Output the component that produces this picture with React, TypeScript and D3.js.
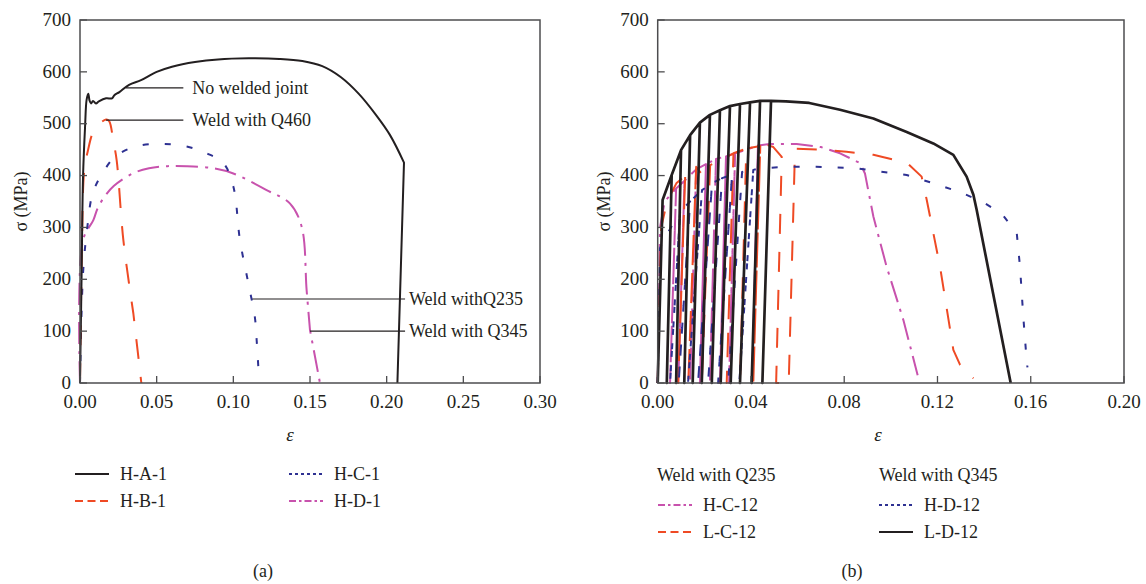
import React from 'react';
import * as d3 from 'd3';

type Pt = number[];

// ---------- Panel (a) data : strain, stress (MPa) ----------
const xTicksA = [0, 0.05, 0.1, 0.15, 0.2, 0.25, 0.3];
const xTicksB = [0, 0.04, 0.08, 0.12, 0.16, 0.2];
const yTicks = [0, 100, 200, 300, 400, 500, 600, 700];

const HA1: Pt[] = [
  [0, 0], [0.001, 200], [0.002, 400], [0.0033, 494], [0.0043, 546], [0.0054, 558],
  [0.0062, 545], [0.0072, 539], [0.0085, 544], [0.0104, 539], [0.0123, 543], [0.017, 549],
  [0.0209, 549], [0.0224, 555], [0.0257, 561], [0.032, 575], [0.0398, 584], [0.05, 600],
  [0.06, 610], [0.075, 619], [0.09, 624], [0.11, 626], [0.13, 625], [0.145, 621],
  [0.158, 611], [0.17, 590], [0.182, 557], [0.193, 517], [0.2022, 478], [0.2113, 425], [0.207, 0],
];
const HB1: Pt[] = [
  [0, 0], [0.0012, 250], [0.0028, 411], [0.005, 446], [0.0093, 488], [0.017, 508],
  [0.019, 505], [0.0217, 467], [0.0239, 430], [0.0283, 275], [0.0348, 134], [0.0400, 0],
];
const HC1: Pt[] = [
  [0, 0], [0.002, 212], [0.0048, 301], [0.0083, 366], [0.0148, 405], [0.0235, 438],
  [0.0376, 457], [0.0543, 461], [0.0696, 456], [0.0826, 443], [0.0935, 424], [0.1, 379],
  [0.1043, 276], [0.1098, 192], [0.114, 128], [0.1152, 83], [0.1163, 31], [0.117, 28],
];
const HD1: Pt[] = [
  [0, 0], [0.002, 276], [0.0087, 314], [0.0115, 337], [0.0159, 359], [0.022, 380],
  [0.0343, 404], [0.045, 414], [0.0565, 418], [0.0696, 418], [0.087, 414], [0.1, 404],
  [0.1217, 372], [0.137, 346], [0.1446, 301], [0.1478, 179], [0.15, 102], [0.1565, 0],
];

// ---------- Panel (b) data : envelope points; a third value = strain where unloading reaches zero stress ----------
const HC12: Pt[] = [
  [0, 0], [0.001, 300], [0.003, 350], [0.0079, 375, 0.0053], [0.0115, 390, 0.0088],
  [0.0165, 412, 0.0139], [0.0207, 422, 0.0181], [0.025, 432, 0.0224], [0.0293, 437, 0.0267],
  [0.0332, 443, 0.0306], [0.0375, 449], [0.043, 458, 0.0405], [0.048, 461], [0.0596, 461],
  [0.07, 455], [0.0782, 443], [0.0868, 424], [0.0889, 404], [0.0925, 321], [0.0982, 224],
  [0.1054, 121], [0.1115, 15],
];
const LC12: Pt[] = [
  [0, 0], [0.0015, 300], [0.004, 350], [0.008, 385], [0.0118, 400, 0.0088], [0.0165, 417, 0.0131],
  [0.0196, 398], [0.0225, 420, 0.0189], [0.0296, 436], [0.0325, 443, 0.0296], [0.038, 452, 0.0353],
  [0.044, 457, 0.041], [0.047, 459], [0.0496, 455], [0.0532, 436], [0.0508, 0], [0.0562, 0],
  [0.0589, 452], [0.07, 450], [0.081, 446], [0.0925, 440], [0.1018, 430], [0.1075, 422],
  [0.1132, 398], [0.1154, 353], [0.1211, 224], [0.1268, 64], [0.1297, 35], [0.1354, 9],
];
const HD12: Pt[] = [
  [0, 0], [0.001, 260], [0.0031, 280], [0.0096, 330, 0.0053], [0.0139, 350, 0.009],
  [0.019, 372, 0.013], [0.0233, 385, 0.0173], [0.0276, 395, 0.0216], [0.0319, 402, 0.0259],
  [0.0362, 407, 0.0302], [0.041, 411, 0.035], [0.0439, 414], [0.0553, 417], [0.068, 417],
  [0.0854, 414], [0.0968, 407], [0.1068, 401], [0.1197, 383], [0.1297, 368], [0.139, 350],
  [0.1475, 327], [0.154, 289], [0.1554, 224], [0.1568, 128], [0.1583, 41], [0.1586, 30],
];
const LD12: Pt[] = [
  [0, 0], [0.0021, 353], [0.006, 401, 0.0039], [0.01, 449, 0.0079], [0.0139, 478, 0.0114],
  [0.0181, 502, 0.015], [0.0224, 517, 0.0189], [0.0267, 526, 0.0232], [0.031, 534, 0.027],
  [0.0353, 538, 0.0313], [0.0396, 541, 0.0353], [0.0439, 544, 0.0403], [0.0486, 544, 0.0449],
  [0.055, 543], [0.065, 540], [0.0782, 527], [0.0925, 510], [0.1068, 484], [0.1182, 462],
  [0.1268, 440], [0.1325, 398], [0.1354, 363], [0.1368, 334], [0.1514, 0],
];

// annotations of panel (a): [anchor strain, stress, line-end strain, text]
const annA: [number, number, number, string][] = [
  [0.030, 569, 0.0674, 'No welded joint'],
  [0.017, 507, 0.0674, 'Weld with Q460'],
  [0.1124, 162, 0.212, 'Weld withQ235'],
  [0.150, 100, 0.212, 'Weld with Q345'],
];

const BLACK = '#231f20';
const RED = '#ef4a24';
const BLUE = '#2e3192';
const MAGENTA = '#c852ad';
const FONT = '"Liberation Serif", "Times New Roman", serif';

const STYLE: Record<string, { color: string; dash?: string; legendDash?: string }> = {
  solid: { color: BLACK },
  dashed: { color: RED, dash: '20,18', legendDash: '8,4.5' },
  dotted: { color: BLUE, dash: '6,16', legendDash: '3,3' },
  dashdot: { color: MAGENTA, dash: '22,7,3,7', legendDash: '7,3,2.5,3' },
};

function expand(pts: Pt[]): [number, number][] {
  const out: [number, number][] = [];
  pts.forEach((p) => {
    out.push([p[0], p[1]]);
    if (p.length > 2) {
      out.push([p[2], 0]);
      out.push([p[0], p[1]]);
    }
  });
  return out;
}

interface Box { left: number; right: number; top: number; bottom: number; }

function Panel({ box, xMax, xTicks, series, ylabelX, tickFmt, smooth }: {
  box: Box; xMax: number; xTicks: number[];
  series: { data: Pt[]; style: string; width?: number }[];
  ylabelX: number; tickFmt: (v: number) => string; smooth: boolean;
}) {
  const x = d3.scaleLinear().domain([0, xMax]).range([box.left, box.right]);
  const y = d3.scaleLinear().domain([0, 700]).range([box.bottom, box.top]);
  const linear = d3.line<[number, number]>().x((d) => x(d[0])).y((d) => y(d[1]));
  const curved = d3.line<[number, number]>().x((d) => x(d[0])).y((d) => y(d[1]))
    .curve(d3.curveCatmullRom.alpha(0.5));
  const pathOf = (data: Pt[]) => {
    const pts = expand(data);
    if (!smooth) return linear(pts) || '';
    // smooth body, straight final (fracture) segment
    const body = curved(pts.slice(0, pts.length - 1)) || '';
    const last = pts[pts.length - 1];
    return `${body}L${x(last[0])},${y(last[1])}`;
  };
  const cy = (box.top + box.bottom) / 2;
  return (
    <g>
      {series.map((s, i) => {
        const st = STYLE[s.style];
        return (
          <path key={i} d={pathOf(s.data)} fill="none" stroke={st.color}
            strokeWidth={s.width ?? 2} strokeDasharray={st.dash} strokeLinejoin="round" />
        );
      })}
      <rect x={box.left} y={box.top} width={box.right - box.left} height={box.bottom - box.top}
        fill="none" stroke="#4d4d4f" strokeWidth={1.5} />
      {xTicks.map((t) => (
        <g key={'x' + t}>
          <line x1={x(t)} x2={x(t)} y1={box.bottom} y2={box.bottom - 7} stroke="#4d4d4f" strokeWidth={1.3} />
          <text x={x(t)} y={box.bottom + 25} textAnchor="middle" fontSize={19} fontFamily={FONT} fill={BLACK}>{tickFmt(t)}</text>
        </g>
      ))}
      {yTicks.map((t) => (
        <g key={'y' + t}>
          <line x1={box.left} x2={box.left + 7} y1={y(t)} y2={y(t)} stroke="#4d4d4f" strokeWidth={1.3} />
          <text x={box.left - 9} y={y(t)} dy="0.3em" textAnchor="end" fontSize={19} fontFamily={FONT} fill={BLACK}>{t}</text>
        </g>
      ))}
      <text transform={`translate(${ylabelX},${cy}) rotate(-90)`} textAnchor="middle" dy="0.35em"
        fontSize={18} fontFamily={FONT} fill={BLACK}>σ (MPa)</text>
    </g>
  );
}

function LegendItem({ x, y, style, label }: { x: number; y: number; style: string; label: string }) {
  const st = STYLE[style];
  return (
    <g>
      <line x1={x} x2={x + 34} y1={y} y2={y} stroke={st.color} strokeWidth={2} strokeDasharray={st.legendDash} />
      <text x={x + 45} y={y} dy="0.35em" fontSize={18} fontFamily={FONT} fill={BLACK}>{label}</text>
    </g>
  );
}

export default function App() {
  const boxA: Box = { left: 80, right: 540, top: 20, bottom: 383 };
  const boxB: Box = { left: 657.7, right: 1124, top: 20, bottom: 383 };
  const xA = d3.scaleLinear().domain([0, 0.3]).range([boxA.left, boxA.right]);
  const yA = d3.scaleLinear().domain([0, 700]).range([boxA.bottom, boxA.top]);
  const f2 = d3.format('.2f');
  return (
    <svg width={1146} height={584} style={{ position: 'absolute', left: 0, top: 0, background: '#fff' }}>
      <rect width={1146} height={584} fill="#fff" />
      <Panel box={boxA} xMax={0.3} xTicks={xTicksA} ylabelX={21} tickFmt={f2} smooth={true}
        series={[
          { data: HD1, style: 'dashdot' },
          { data: HC1, style: 'dotted' },
          { data: HB1, style: 'dashed' },
          { data: HA1, style: 'solid' },
        ]} />
      {annA.map((a, i) => (
        <g key={i}>
          <line x1={xA(a[0])} x2={xA(a[2])} y1={yA(a[1])} y2={yA(a[1])} stroke={BLACK} strokeWidth={1.2} />
          <text x={xA(a[2]) + 4 + (a[2] > 0.1 ? 0 : 5)} y={yA(a[1])} dy="0.35em" fontSize={18} fontFamily={FONT} fill={BLACK}>{a[3]}</text>
        </g>
      ))}
      <Panel box={boxB} xMax={0.2} xTicks={xTicksB} ylabelX={604} tickFmt={f2} smooth={false}
        series={[
          { data: HC12, style: 'dashdot' },
          { data: LC12, style: 'dashed' },
          { data: HD12, style: 'dotted' },
          { data: LD12, style: 'solid', width: 2.7 },
        ]} />
      <text x={290} y={441} textAnchor="middle" fontSize={19} fontStyle="italic" fontFamily={FONT} fill={BLACK}>ε</text>
      <text x={878} y={441} textAnchor="middle" fontSize={19} fontStyle="italic" fontFamily={FONT} fill={BLACK}>ε</text>
      <LegendItem x={75} y={474} style="solid" label="H-A-1" />
      <LegendItem x={75} y={501} style="dashed" label="H-B-1" />
      <LegendItem x={289} y={474} style="dotted" label="H-C-1" />
      <LegendItem x={289} y={501} style="dashdot" label="H-D-1" />
      <text x={657} y={475} dy="0.35em" fontSize={18} fontFamily={FONT} fill={BLACK}>Weld with Q235</text>
      <text x={879} y={475} dy="0.35em" fontSize={18} fontFamily={FONT} fill={BLACK}>Weld with Q345</text>
      <LegendItem x={658} y={505} style="dashdot" label="H-C-12" />
      <LegendItem x={658} y={532} style="dashed" label="L-C-12" />
      <LegendItem x={879} y={505} style="dotted" label="H-D-12" />
      <LegendItem x={879} y={532} style="solid" label="L-D-12" />
      <text x={263} y={577} textAnchor="middle" fontSize={18} fontFamily={FONT} fill={BLACK}>(a)</text>
      <text x={852} y={577} textAnchor="middle" fontSize={18} fontFamily={FONT} fill={BLACK}>(b)</text>
    </svg>
  );
}
